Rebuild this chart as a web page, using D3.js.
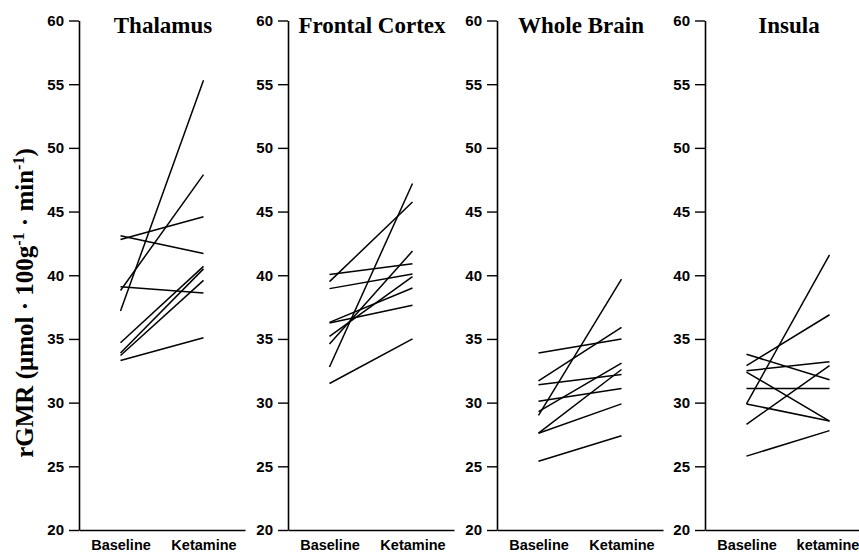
<!DOCTYPE html>
<html>
<head>
<meta charset="utf-8">
<script src="https://cdn.jsdelivr.net/npm/d3@7/dist/d3.min.js"></script>
<style>
  html, body { margin: 0; padding: 0; background: #fff; }
  svg { display: block; }
</style>
</head>
<body>
<svg id="chart" width="859" height="554"></svg>
<script>
// ---- data ----
const panelTitles = ["Thalamus", "Frontal Cortex", "Whole Brain", "Insula"];
const categories = ["Baseline", "Ketamine"];
const xTickLabels = [
  ["Baseline", "Ketamine"],
  ["Baseline", "Ketamine"],
  ["Baseline", "Ketamine"],
  ["Baseline", "ketamine"]
];
const yTicks = [20, 25, 30, 35, 40, 45, 50, 55, 60];

const thalamusBaseline   = [37.2, 38.8, 43.1, 42.8, 34.7, 33.9, 33.7, 33.3, 39.1];
const thalamusKetamine   = [55.3, 47.9, 41.7, 44.6, 40.7, 40.5, 39.6, 35.1, 38.6];
const frontalBaseline    = [31.5, 32.8, 39.5, 40.05, 38.95, 34.6, 35.2, 36.3, 36.25];
const frontalKetamine    = [35.0, 47.2, 45.75, 40.9, 40.1, 41.9, 39.9, 39.0, 37.65];
const wholeBrainBaseline = [25.4, 33.9, 31.7, 29.0, 31.4, 30.1, 29.3, 27.6, 27.6];
const wholeBrainKetamine = [27.4, 35.0, 35.9, 39.7, 32.2, 31.1, 33.1, 32.6, 29.9];
const insulaBaseline     = [25.8, 31.1, 29.9, 29.9, 33.8, 32.9, 32.5, 32.4, 28.3];
const insulaKetamine     = [27.8, 31.1, 41.6, 28.55, 31.8, 36.9, 33.2, 28.55, 32.9];

const baselineSets = [thalamusBaseline, frontalBaseline, wholeBrainBaseline, insulaBaseline];
const ketamineSets = [thalamusKetamine, frontalKetamine, wholeBrainKetamine, insulaKetamine];

// ---- layout ----
const svg = d3.select("#chart");
const axisX = [79, 288, 497, 705];
const panelW = 166;
const y = d3.scaleLinear().domain([20, 60]).range([530, 20.5]);
const x = d3.scalePoint().domain(categories).range([0, panelW]).padding(0.5);

panelTitles.forEach((title, i) => {
  const g = svg.append("g").attr("transform", `translate(${axisX[i]},0)`);

  // y axis
  const ya = g.append("g")
    .call(d3.axisLeft(y).tickValues(yTicks).tickSize(10).tickSizeOuter(0).tickPadding(5).tickFormat(d3.format("d")));
  ya.select(".domain").attr("stroke", "#000").attr("stroke-width", 1.6);
  ya.selectAll(".tick line").attr("stroke", "#000").attr("stroke-width", 1.4);
  ya.selectAll(".tick text")
    .attr("font-family", "'Liberation Sans', Arial, sans-serif")
    .attr("font-weight", "bold").attr("font-size", 15).attr("fill", "#000");

  // x axis
  const labels = xTickLabels[i];
  const xa = g.append("g").attr("transform", `translate(0,${y(20)})`)
    .call(d3.axisBottom(x).tickSize(0).tickSizeOuter(0).tickPadding(10)
      .tickFormat(d => labels[categories.indexOf(d)]));
  xa.select(".domain").attr("stroke", "#000").attr("stroke-width", 1.6);
  xa.selectAll(".tick text")
    .attr("font-family", "'Liberation Sans', Arial, sans-serif")
    .attr("font-weight", "bold").attr("font-size", 14.5).attr("fill", "#000");
  if (i === 3) {
    xa.selectAll(".tick text").filter(d => d === categories[1]).attr("dx", -2);
  }

  // lines
  const base = baselineSets[i], ket = ketamineSets[i];
  const pairs = base.map((b, k) => [[categories[0], b], [categories[1], ket[k]]]);
  const line = d3.line().x(d => x(d[0])).y(d => y(d[1]));
  g.selectAll("path.subj").data(pairs).enter().append("path")
    .attr("class", "subj")
    .attr("d", line)
    .attr("fill", "none").attr("stroke", "#000").attr("stroke-width", 1.5);

  // title
  g.append("text")
    .attr("x", 84).attr("y", 33)
    .attr("text-anchor", "middle")
    .attr("font-family", "'Liberation Serif', 'Times New Roman', serif")
    .attr("font-weight", "bold").attr("font-size", 23).attr("fill", "#000")
    .text(title);
});

// y axis title
const yt = svg.append("text")
  .attr("transform", "translate(33,303) rotate(-90)")
  .attr("text-anchor", "middle")
  .attr("font-family", "'Liberation Serif', 'Times New Roman', serif")
  .attr("font-weight", "bold").attr("font-size", 25).attr("fill", "#000");
yt.append("tspan").text("rGMR (\u03BCmol \u00B7 100g");
yt.append("tspan").attr("font-size", 16).attr("dy", -9).text("-1");
yt.append("tspan").attr("dy", 9).text(" \u00B7 min");
yt.append("tspan").attr("font-size", 16).attr("dy", -9).text("-1");
yt.append("tspan").attr("dy", 9).text(")");
</script>
</body>
</html>
